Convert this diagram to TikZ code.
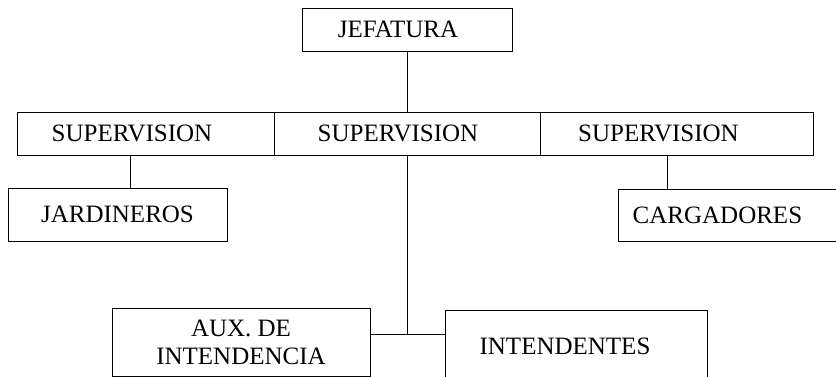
\documentclass[tikz,border=0pt]{standalone}
\usepackage{fontspec}
\setmainfont{Liberation Serif}
\begin{document}
\begin{tikzpicture}[x=1pt,y=-1pt,
  box/.style={draw=black,line width=0.9pt,rectangle,inner sep=0pt,align=center,
    font=\fontsize{25}{28}\selectfont},
  link/.style={draw=black,line width=0.9pt}]
\useasboundingbox (0,0) rectangle (836,377);
\clip (0,0) rectangle (836,377);
% top
\node[box,minimum width=210pt,minimum height=43pt] (jef) at (407,29.5) {JEFATURA\hspace*{18pt}};
% supervision row
\node[box,minimum width=257pt,minimum height=43pt] (sup1) at (145.5,133.5) {SUPERVISION\hspace*{27pt}};
\node[box,minimum width=266pt,minimum height=43pt] (sup2) at (407,133.5) {SUPERVISION\hspace*{18pt}};
\node[box,minimum width=273pt,minimum height=43pt] (sup3) at (676.5,133.5) {SUPERVISION\hspace*{36pt}};
% second level
\node[box,minimum width=219pt,minimum height=53pt] (jard) at (117.5,214.5) {JARDINEROS};
\node[box,minimum width=240pt,minimum height=52pt,anchor=west] (carg) at (618,215) {CARGADORES\hspace*{42pt}};
% bottom
\node[box,minimum width=258pt,minimum height=68pt] (aux) at (241,342) {\raisebox{-7pt}{\parbox{250pt}{\centering AUX. DE\\INTENDENCIA}}};
\node[box,minimum width=262pt,minimum height=72pt] (int) at (576,346) {INTENDENTES\hspace*{22pt}};
% helper coordinates
\coordinate (c1) at (130,0);
\coordinate (c3) at (667,0);
\coordinate (j) at (407,334);
% connectors
\draw[link] (jef.south) -- (sup2.north);
\draw[link] (sup1.south -| c1) -- (jard.north -| c1);
\draw[link] (sup3.south -| c3) -- (carg.north -| c3);
\draw[link] (sup2.south) -- (j);
\draw[link] (aux.east |- j) -- (int.west |- j);
\end{tikzpicture}
\end{document}
